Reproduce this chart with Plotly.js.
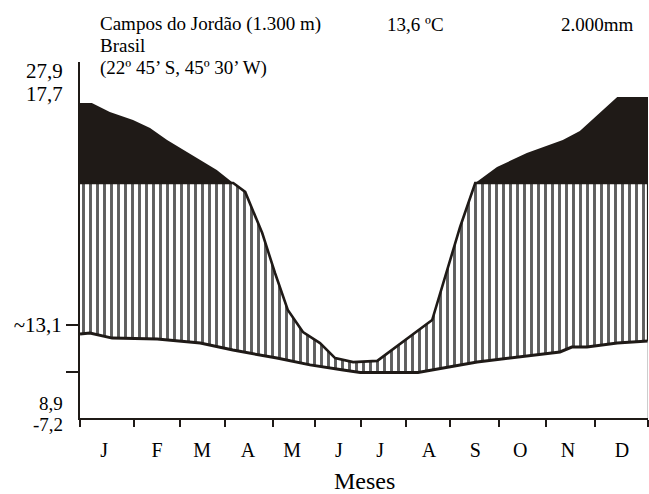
<!DOCTYPE html>
<html>
<head>
<meta charset="utf-8">
<script src="https://cdn.plot.ly/plotly-3.0.1.min.js"></script>
<style>html,body{margin:0;padding:0;background:#fff;}#chart{width:649px;height:494px;}</style>
</head>
<body>
<div id="chart"></div>
<script>
// Month axis (x in month units, 0 = start of January, 12 = end of December)
const months = ['J','F','M','A','M','J','J','A','S','O','N','D'];
const monthLabelPos = [0.51,1.63,2.58,3.55,4.48,5.47,6.34,7.37,8.35,9.30,10.31,11.45];
const monthBoundaries = [0,1.14,2.11,3.06,4.08,4.97,5.94,6.89,7.82,8.85,9.85,10.88,12];

// Precipitation curve (diagram units: 100 = humid threshold line)
const precipX = [0,0.25,0.63,1.12,1.48,1.84,2.26,2.89,3.21,3.49,3.85,4.12,4.39,4.71,5.07,5.39,5.77,6.28,7.44,8.03,8.35,8.81,9.44,10.20,10.56,11.35,12];
const precipY = [134.0,134.0,130.2,126.8,123.4,118.3,113.2,105.5,100.4,96.2,78.7,61.7,46.0,36.6,31.9,25.5,23.8,24.3,41.7,81.3,100.0,106.8,112.8,118.3,122.1,136.6,136.6];

// Temperature curve (same diagram units)
const tempX = [0,0.21,0.68,1.63,2.54,3.23,4.16,4.86,5.56,5.92,7.14,8.39,10.14,10.39,10.71,11.35,12];
const tempY = [35.7,36.2,34.0,33.6,31.9,28.9,25.5,22.6,20.4,19.4,19.4,23.8,28.1,30.2,30.2,31.9,32.8];

const threshold = 100;
const yTickVals = [19.6, 39.6];
const yTickText = ['', '~13,1'];

// Side labels and header texts
const sideLabels = ['27,9','17,7','8,9','-7,2'];
const headerLeft = ['Campos do Jordão (1.300 m)','Brasil','(22º 45’ S, 45º 30’ W)'];
const headerTemp = '13,6 ºC';
const headerPrecip = '2.000mm';
const xTitle = 'Meses';

// Split curve at threshold crossings, return clipped arrays
function clipCurve(xs, ys, level, keepAbove) {
  const ox = [], oy = [];
  for (let i = 0; i < xs.length; i++) {
    if (i > 0) {
      const y0 = ys[i-1], y1 = ys[i];
      if ((y0 - level) * (y1 - level) < 0) {
        const t = (level - y0) / (y1 - y0);
        ox.push(xs[i-1] + t * (xs[i] - xs[i-1]));
        oy.push(level);
      }
    }
    ox.push(xs[i]);
    oy.push(keepAbove ? Math.max(ys[i], level) : Math.min(ys[i], level));
  }
  return {x: ox, y: oy};
}
const low = clipCurve(precipX, precipY, threshold, false);
const high = clipCurve(precipX, precipY, threshold, true);

const BLACK = '#1f1a17';
const FONT = 'Liberation Serif';
const lastX = tempX[tempX.length-1];
const lastT = tempY[tempY.length-1];

const traces = [
  {x: tempX, y: tempY, mode: 'lines', line: {width: 0, color: 'rgba(0,0,0,0)'}, hoverinfo: 'skip', showlegend: false},
  {x: low.x, y: low.y, mode: 'lines', fill: 'tonexty', fillcolor: '#ffffff',
   fillpattern: {shape: '|', size: 7, solidity: 0.42, fgcolor: '#5e5e5e', bgcolor: '#ffffff'},
   line: {width: 0, color: 'rgba(0,0,0,0)'}, hoverinfo: 'skip', showlegend: false},
  {x: [0, 12], y: [threshold, threshold], mode: 'lines', line: {width: 0, color: 'rgba(0,0,0,0)'}, hoverinfo: 'skip', showlegend: false},
  {x: high.x, y: high.y, mode: 'lines', fill: 'tonexty', fillcolor: BLACK, line: {width: 0, color: BLACK}, hoverinfo: 'skip', showlegend: false},
  {x: low.x, y: low.y, mode: 'lines', line: {width: 2.6, color: BLACK}, showlegend: false},
  {x: tempX, y: tempY, mode: 'lines', line: {width: 3, color: BLACK}, showlegend: false},
  {x: [lastX, lastX], y: [lastT, threshold], mode: 'lines', line: {width: 2.2, color: BLACK}, cliponaxis: false, showlegend: false},
  {x: [lastX, lastX], y: [0, lastT], mode: 'lines', line: {width: 1, color: '#9a9a9a'}, cliponaxis: false, showlegend: false}
];

function pxX(px) { return (px - 80) / 568; }
function pxY(py) { return (418 - py) / 356; }
function ann(text, x, y, xanchor, size) {
  return {text: text, xref: 'paper', yref: 'paper', x: x, y: y, xanchor: xanchor, yanchor: 'middle',
          showarrow: false, font: {family: FONT, size: size, color: '#000'}};
}

const annotations = [
  ann(headerLeft[0], pxX(98), pxY(24), 'left', 19),
  ann(headerLeft[1], pxX(98), pxY(45), 'left', 19),
  ann(headerLeft[2], pxX(98), pxY(68), 'left', 19),
  ann(headerTemp, pxX(385), pxY(24), 'left', 19),
  ann(headerPrecip, pxX(636), pxY(24), 'right', 19),
  ann(sideLabels[0], pxX(65), pxY(71), 'right', 21),
  ann(sideLabels[1], pxX(65), pxY(94), 'right', 21),
  ann(sideLabels[2], pxX(65), pxY(403), 'right', 19),
  ann(sideLabels[3], pxX(65), pxY(424), 'right', 19),
  ann(xTitle, 0.5, pxY(481), 'center', 24)
];

const layout = {
  width: 649, height: 494,
  margin: {l: 80, r: 1, t: 62, b: 76, pad: 0},
  paper_bgcolor: '#ffffff', plot_bgcolor: '#ffffff',
  showlegend: false,
  font: {family: FONT, color: '#000'},
  xaxis: {
    range: [0, 12], showgrid: false, zeroline: false,
    showline: true, linewidth: 2, linecolor: BLACK,
    tickmode: 'array', tickvals: monthLabelPos, ticktext: months,
    ticks: 'outside', ticklen: 13, tickcolor: 'rgba(0,0,0,0)',
    tickfont: {family: FONT, size: 20, color: '#000'},
    minor: {tickmode: 'array', tickvals: monthBoundaries, ticks: 'outside', ticklen: 7, tickwidth: 2, tickcolor: BLACK, showgrid: false},
    fixedrange: true
  },
  yaxis: {
    range: [0, 151.5], showgrid: false, zeroline: false,
    showline: true, linewidth: 2, linecolor: BLACK,
    tickmode: 'array', tickvals: yTickVals, ticktext: yTickText,
    ticks: 'outside', ticklen: 12, tickwidth: 1.5, tickcolor: BLACK,
    tickfont: {family: FONT, size: 21, color: '#000'},
    fixedrange: true
  },
  annotations: annotations
};

Plotly.newPlot('chart', traces, layout, {staticPlot: true, displayModeBar: false});
</script>
</body>
</html>
